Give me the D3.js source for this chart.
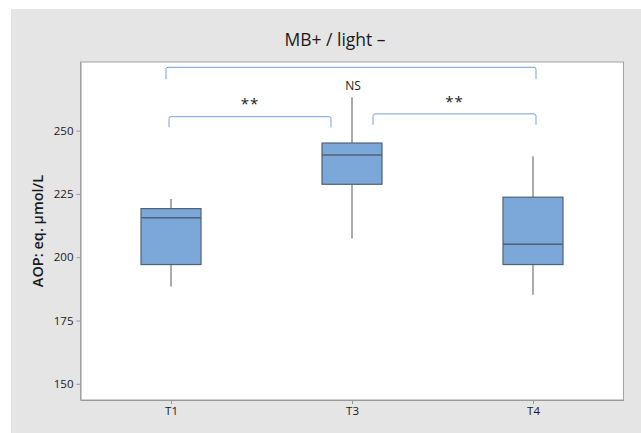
<!doctype html>
<html lang='en'>

<head>
    <meta charset='UTF-8'>
    <title>MB+ / light –</title>
    <style>
        html,
        body {
            margin: 0;
            background: #ffffff;
        }

        svg {
            display: block;
            font-family: "Open Sans", "Noto Sans", "DejaVu Sans", sans-serif;
        }
    </style>
</head>

<body>
    <script src='https://cdn.jsdelivr.net/npm/d3@7/dist/d3.min.js'></script>
    <div class='chart'></div>
    <script>
        // Data
        const groups = ['T1', 'T3', 'T4'];
        const whiskerLow = [188.4, 207.4, 185.2];
        const q1 = [197.1, 228.8, 197.1];
        const median = [215.6, 240.4, 205.1];
        const q3 = [219.2, 245.1, 223.7];
        const whiskerHigh = [223.0, 263.2, 239.9];
        const yTicks = [150, 175, 200, 225, 250];

        // Significance brackets: from group, to group, label, level (data units)
        const brackets = [
            {from: 'T1', to: 'T3', label: '**', y: 255.5, drop: 4.2, xPad: [-2, -21], textY: 260},
            {from: 'T3', to: 'T4', label: '**', y: 256.6, drop: 4.3, xPad: [21, 3], textY: 260.8},
            {from: 'T1', to: 'T4', label: 'NS', y: 275.0, drop: 4.7, xPad: [-5, 3], textY: 267.4}
        ];

        const config = {
            width: 641,
            height: 433,
            bg: '#e5e5e5',
            plot: {left: 80.5, top: 62, right: 623.5, bottom: 400},
            boxWidth: 60,
            boxFill: '#7ba7d9',
            boxStroke: '#4f6276',
            whiskerColor: '#8f8f8f',
            bracketColor: '#7b9fd8',
            frameColor: '#a3a3a3'
        };

        const {width, height, plot} = config;

        const svg = d3.select('.chart')
            .append('svg')
            .attr('width', width)
            .attr('height', height);

        // figure background
        svg.append('rect')
            .attr('x', 11)
            .attr('y', 9)
            .attr('width', width - 11)
            .attr('height', height - 9)
            .attr('fill', config.bg);

        svg.append('rect')
            .attr('x', plot.left)
            .attr('y', plot.top)
            .attr('width', plot.right - plot.left)
            .attr('height', plot.bottom - plot.top)
            .attr('fill', '#ffffff')
            .attr('stroke', config.frameColor)
            .attr('stroke-width', 1);

        const x = d3.scalePoint()
            .domain(groups)
            .range([plot.left, plot.right])
            .padding(0.5);

        const y = d3.scaleLinear()
            .domain([143.6, 277.1])
            .range([plot.bottom, plot.top]);

        // axes
        const yAxis = svg.append('g')
            .attr('transform', 'translate(' + plot.left + ',0)')
            .call(d3.axisLeft(y).tickValues(yTicks).tickSizeInner(4).tickSizeOuter(0).tickPadding(3));

        const xAxis = svg.append('g')
            .attr('transform', 'translate(0,' + plot.bottom + ')')
            .call(d3.axisBottom(x).tickSizeInner(4).tickSizeOuter(0).tickPadding(3));

        [yAxis, xAxis].forEach((axis) => {
            axis.select('.domain').attr('stroke', '#9a9a9a');
            axis.selectAll('.tick line').attr('stroke', '#9a9a9a');
            axis.selectAll('.tick text')
                .attr('fill', '#1a1a1a')
                .style('font-size', '11.5px')
                .style('font-family', '"Open Sans", "Noto Sans", sans-serif');
        });

        // boxes
        const boxes = svg.append('g')
            .selectAll('g')
            .data(groups)
            .join('g');

        boxes.append('line')
            .attr('x1', (d) => x(d))
            .attr('x2', (d) => x(d))
            .attr('y1', (d, i) => y(whiskerHigh[i]))
            .attr('y2', (d, i) => y(q3[i]))
            .attr('stroke', config.whiskerColor)
            .attr('stroke-width', 1.5);

        boxes.append('line')
            .attr('x1', (d) => x(d))
            .attr('x2', (d) => x(d))
            .attr('y1', (d, i) => y(q1[i]))
            .attr('y2', (d, i) => y(whiskerLow[i]))
            .attr('stroke', config.whiskerColor)
            .attr('stroke-width', 1.5);

        boxes.append('rect')
            .attr('x', (d) => x(d) - config.boxWidth / 2)
            .attr('y', (d, i) => y(q3[i]))
            .attr('width', config.boxWidth)
            .attr('height', (d, i) => y(q1[i]) - y(q3[i]))
            .attr('fill', config.boxFill)
            .attr('stroke', config.boxStroke)
            .attr('stroke-width', 1.2);

        boxes.append('line')
            .attr('x1', (d) => x(d) - config.boxWidth / 2)
            .attr('x2', (d) => x(d) + config.boxWidth / 2)
            .attr('y1', (d, i) => y(median[i]))
            .attr('y2', (d, i) => y(median[i]))
            .attr('stroke', config.boxStroke)
            .attr('stroke-width', 1.5);

        // significance brackets
        const br = svg.append('g')
            .selectAll('g')
            .data(brackets)
            .join('g');

        br.append('path')
            .attr('fill', 'none')
            .attr('stroke', config.bracketColor)
            .attr('stroke-width', 1)
            .attr('d', (d) => {
                const x1 = x(d.from) + d.xPad[0];
                const x2 = x(d.to) + d.xPad[1];
                const yTop = y(d.y);
                const yBot = y(d.y - d.drop);
                return 'M' + x1 + ',' + yBot + 'V' + (yTop + 2) +
                    'Q' + x1 + ',' + yTop + ' ' + (x1 + 2) + ',' + yTop +
                    'H' + (x2 - 2) +
                    'Q' + x2 + ',' + yTop + ' ' + x2 + ',' + (yTop + 2) +
                    'V' + yBot;
            });

        br.append('text')
            .attr('x', (d) => d.label === 'NS' ? x('T3') + 1 : (x(d.from) + d.xPad[0] + x(d.to) + d.xPad[1]) / 2)
            .attr('y', (d) => y(d.textY))
            .attr('text-anchor', 'middle')
            .attr('dominant-baseline', 'middle')
            .attr('fill', '#1a1a1a')
            .style('font-size', (d) => d.label === 'NS' ? '12px' : '15px')
            .style('letter-spacing', (d) => d.label === 'NS' ? '0px' : '1px')
            .text((d) => d.label);

        // titles
        svg.append('text')
            .attr('x', 335)
            .attr('y', 46)
            .attr('text-anchor', 'middle')
            .attr('fill', '#1a1a1a')
            .style('font-size', '17.5px')
            .text('MB+ / light –');

        svg.append('text')
            .attr('transform', 'translate(43,' + ((plot.top + plot.bottom) / 2) + ') rotate(-90)')
            .attr('text-anchor', 'middle')
            .attr('fill', '#1a1a1a')
            .style('font-size', '14.5px')
            .style('font-weight', '600')
            .text('AOP: eq. µmol/L');
    </script>
</body>
</html>
